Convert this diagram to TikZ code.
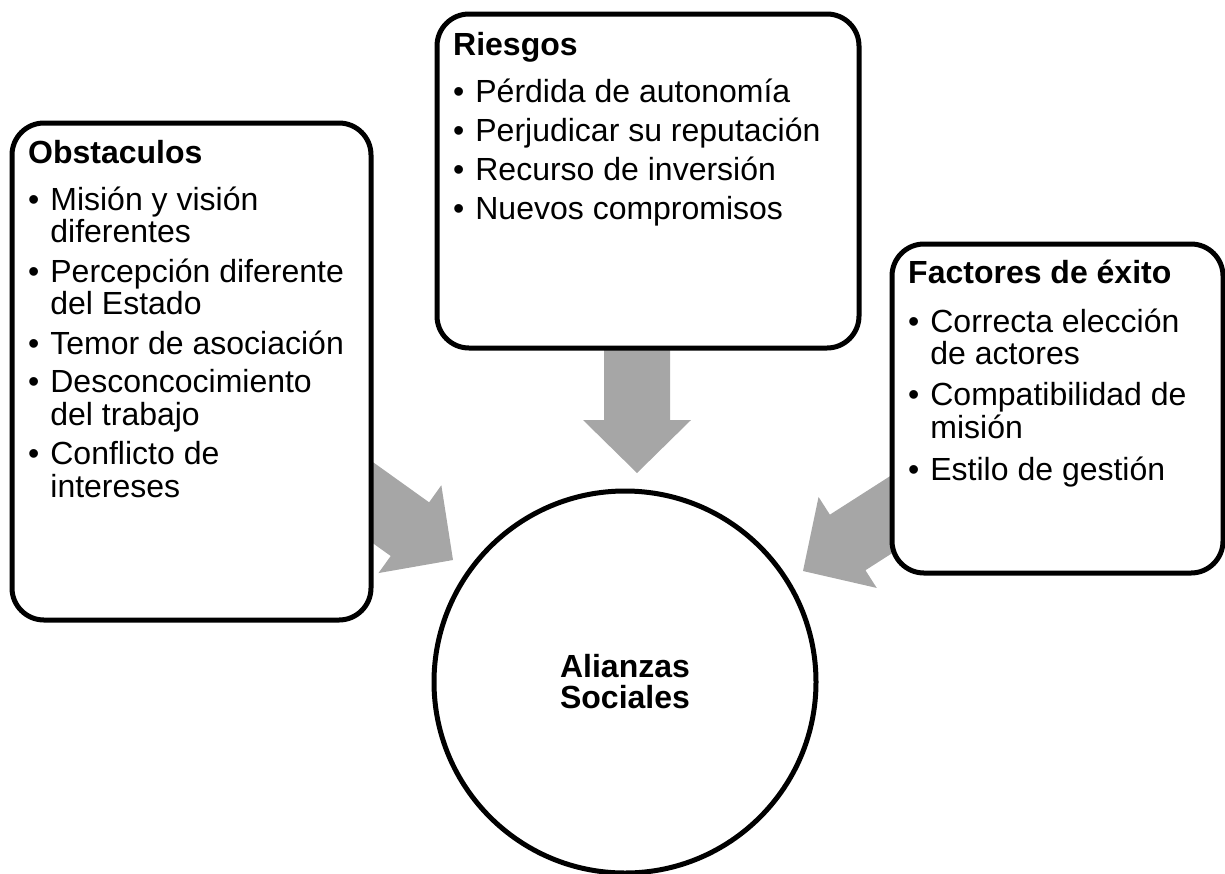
\documentclass[tikz,border=0pt]{standalone}
\usepackage{fontspec}
\setmainfont{Liberation Sans}
\usepackage{xcolor}
\usetikzlibrary{positioning,calc}

\definecolor{arrowgray}{RGB}{166,166,166}

\tikzset{
	panel/.style={draw, line width=5pt, fill=white, rounded corners=32pt, anchor=north west, outer sep=0pt},
	panelText/.style={anchor=base west, inner sep=0pt, font=\fontsize{32}{32}\selectfont},
	core/.style={circle, draw, line width=5pt, fill=white, minimum size=382pt, inner sep=0pt, align=center, font=\bfseries\fontsize{32}{31}\selectfont},
	pics/fatarrow/.style={code={
		\fill[arrowgray] (0,0) -- (-53,54) -- (-53,33) -- (-#1,33) -- (-#1,-33) -- (-53,-33) -- (-53,-54) -- cycle;
	}}
}

\begin{document}
\begin{tikzpicture}[x=1pt, y=-1pt]
		\useasboundingbox (0,0) rectangle (1225,873);

		% tips of the arrows, next to the circle
		\coordinate (tipObs) at (453,560);
		\coordinate (tipRie) at (637,473);
		\coordinate (tipFac) at (803,571);

		% arrows first, the boxes hide their tails
		\pic[rotate=-35.6] at (tipObs) {fatarrow=130};
		\pic[rotate=-90] at (tipRie) {fatarrow=140};
		\pic[rotate=212.6] at (tipFac) {fatarrow=140};

		% Boxes
		\node[panel, minimum width=359pt, minimum height=497pt] (obs) at (12,123) {};
		\node[panel, minimum width=422pt, minimum height=334pt] (rie) at (437,14) {};
		\node[panel, minimum width=331pt, minimum height=329pt] (fac) at (892,244) {};

		% Lists inside the boxes
		\node[panelText] (obsText) at ($(obs.north west)+(16,40)$) {%
			\begin{tabular}[t]{@{}l@{\hspace{11pt}}l@{}}
				\multicolumn{2}{@{}l@{}}{\textbf{Obstaculos}}\\[14pt]
				• & Misión y visión\\
				  & diferentes\\[6pt]
				• & Percepción diferente\\
				  & del Estado\\[6pt]
				• & Temor de asociación\\[6pt]
				• & Desconcocimiento\\
				  & del trabajo\\[6pt]
				• & Conflicto de\\
				  & intereses
			\end{tabular}};
		\node[panelText] (rieText) at ($(rie.north west)+(16,41)$) {%
			\begin{tabular}[t]{@{}l@{\hspace{11pt}}l@{}}
				\multicolumn{2}{@{}l@{}}{\textbf{Riesgos}}\\[14pt]
				• & Pérdida de autonomía\\[6pt]
				• & Perjudicar su reputación\\[6pt]
				• & Recurso de inversión\\[6pt]
				• & Nuevos compromisos
			\end{tabular}};
		\node[panelText] (facText) at ($(fac.north west)+(16,39)$) {%
			\begin{tabular}[t]{@{}l@{\hspace{11pt}}l@{}}
				\multicolumn{2}{@{}l@{}}{\textbf{Factores de éxito}}\\[16pt]
				• & Correcta elección\\
				  & de actores\\[8pt]
				• & Compatibilidad de\\
				  & misión\\[8pt]
				• & Estilo de gestión
			\end{tabular}};

		% Circle in the middle
		\node[core] (hub) at (625,682) {Alianzas\\Sociales};
\end{tikzpicture}
\end{document}
